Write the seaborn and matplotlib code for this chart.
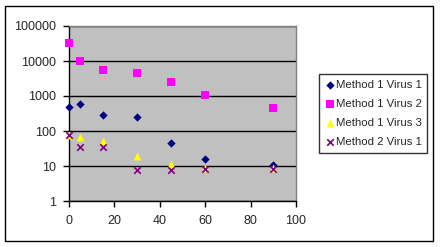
import matplotlib
matplotlib.use("Agg")
import matplotlib.pyplot as plt
import seaborn as sns
import pandas as pd
from matplotlib.patches import Rectangle
from matplotlib.ticker import FixedLocator, FixedFormatter, NullLocator

# Data
times = [0, 5, 15, 30, 45, 60, 90]
series_names = ["Method 1 Virus 1", "Method 1 Virus 2", "Method 1 Virus 3", "Method 2 Virus 1"]
m1_virus1 = [500, 610, 290, 245, 44, 15.5, 11]
m1_virus2 = [32000, 9800, 5500, 4600, 2500, 1100, 450]
m1_virus3 = [77, 69, 53, 19, 11.7, 9, 9]
m2_virus1 = [77, 36, 36, 7.8, 7.8, 8, 8]
x_ticks = [0, 20, 40, 60, 80, 100]
y_ticks = [1, 10, 100, 1000, 10000, 100000]
y_tick_labels = ["1", "10", "100", "1000", "10000", "100000"]

rows = []
for name, vals in zip(series_names, [m1_virus1, m1_virus2, m1_virus3, m2_virus1]):
    for t, v in zip(times, vals):
        rows.append({"time": t, "value": v, "series": name})
df = pd.DataFrame(rows)

sns.set_theme(style="white")
plt.rcParams['font.family'] = ['Liberation Sans', 'DejaVu Sans']

fig = plt.figure(figsize=(4.4, 2.47), dpi=100)
fig.patch.set_facecolor("white")
ax = fig.add_axes([69/440, 1-201/247, (296-69)/440, (201-26)/247])
ax.set_facecolor("#C0C0C0")

palette = {"Method 1 Virus 1": "#000080", "Method 1 Virus 2": "#FF00FF",
           "Method 1 Virus 3": "#FFFF00", "Method 2 Virus 1": "#800080"}
markers = {"Method 1 Virus 1": "D", "Method 1 Virus 2": "s",
           "Method 1 Virus 3": "^", "Method 2 Virus 1": "x"}
sizes = {"Method 1 Virus 1": 18, "Method 1 Virus 2": 28,
         "Method 1 Virus 3": 32, "Method 2 Virus 1": 22}

for name in series_names:
    sub = df[df["series"] == name]
    kw = dict(linewidth=0) if markers[name] != "x" else dict(linewidth=1.2)
    sns.scatterplot(data=sub, x="time", y="value", color=palette[name],
                    marker=markers[name], s=sizes[name], ax=ax, label=name,
                    zorder=3, clip_on=False, **kw)

ax.set_yscale("log")
ax.set_xlim(0, 100)
ax.set_ylim(1, 100000)
ax.xaxis.set_major_locator(FixedLocator(x_ticks))
ax.yaxis.set_major_locator(FixedLocator(y_ticks))
ax.yaxis.set_major_formatter(FixedFormatter(y_tick_labels))
ax.yaxis.set_minor_locator(NullLocator())
ax.set_xlabel("")
ax.set_ylabel("")
ax.grid(axis="y", which="major", color="black", linewidth=1, zorder=1)
ax.set_axisbelow(True)
ax.tick_params(axis="both", which="major", direction="out", length=4, width=1,
               color="black", labelsize=9, left=True, bottom=True)
ax.tick_params(axis="x", pad=6)
ax.tick_params(axis="y", pad=5)
for side in ["left", "bottom"]:
    ax.spines[side].set_color("black")
    ax.spines[side].set_linewidth(1)
for side in ["top", "right"]:
    ax.spines[side].set_color("#808080")
    ax.spines[side].set_linewidth(1)
    ax.spines[side].set_visible(True)

leg = ax.legend(loc="upper left", bbox_to_anchor=(319/440, 1-74/247),
                bbox_transform=fig.transFigure, frameon=True, fancybox=False,
                edgecolor="black", fontsize=8.2, handletextpad=0.05,
                borderpad=0.5, labelspacing=0.8, handlelength=0.9,
                borderaxespad=0, markerscale=1.0)
leg.get_frame().set_linewidth(1)
leg.get_frame().set_facecolor("white")

fig.patches.append(Rectangle((5/440, 6/247), (433-5)/440, (241-6)/247,
                             transform=fig.transFigure, fill=False,
                             edgecolor="black", linewidth=1))

fig.savefig("out.png", dpi=100)
